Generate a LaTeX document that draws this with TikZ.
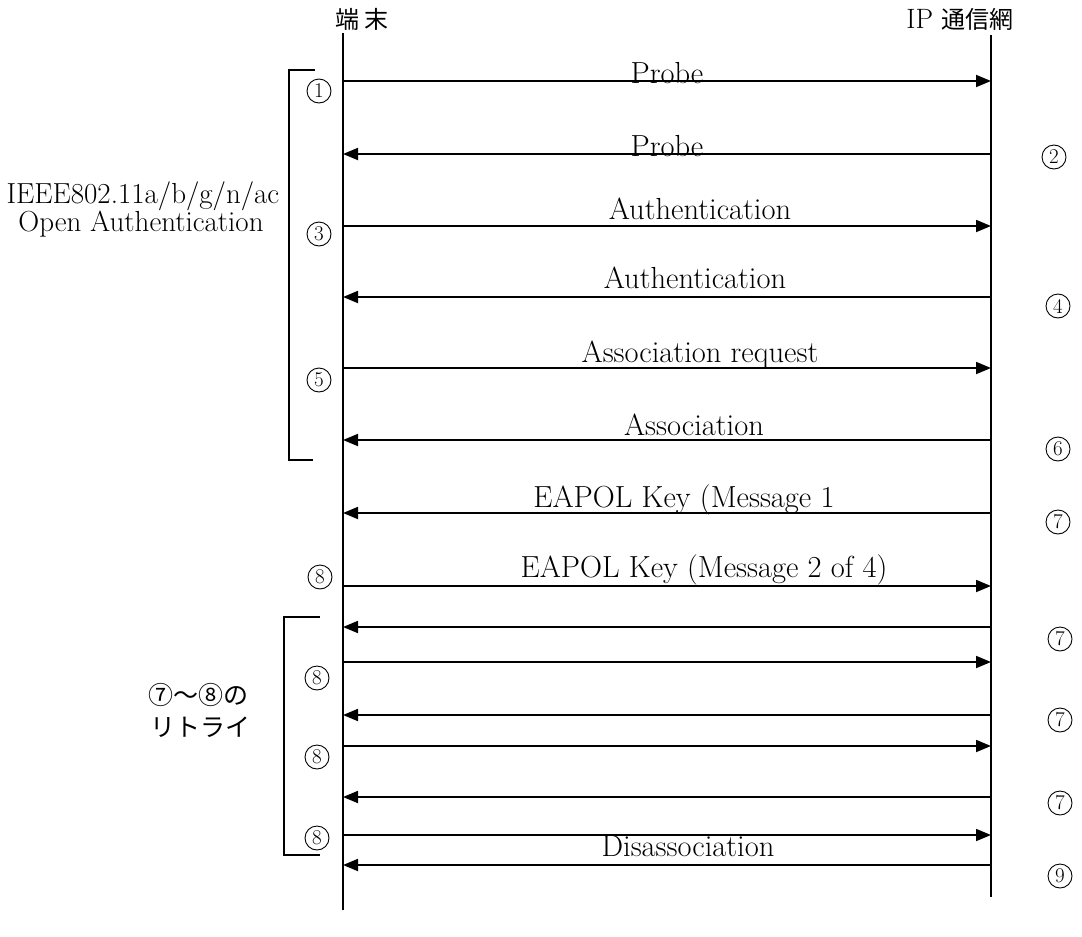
\documentclass[tikz,border=0pt]{standalone}
\usepackage{fontspec}
\newfontfamily\jp{Noto Sans CJK JP}
\usetikzlibrary{arrows.meta}
\begin{document}
\begin{tikzpicture}[x=1pt,y=-1pt,
  life/.style={line width=1.8pt},
  msg/.style={line width=1.8pt,-{Triangle[length=15pt,width=12pt]}},
  lbl/.style={font=\fontsize{30.5}{34}\selectfont, anchor=base, inner sep=0pt},
  hdr/.style={font=\fontsize{28}{32}\selectfont, inner sep=0pt},
  num/.style={circle, draw, line width=0.9pt, minimum size=24pt, inner sep=0pt, font=\fontsize{21}{24}\selectfont},
  side/.style={font=\fontsize{29}{33}\selectfont, inner sep=0pt, align=center},
  jside/.style={font=\jp\fontsize{25}{28}\selectfont, inner sep=0pt},
  brk/.style={line width=1.5pt},
]
\useasboundingbox (0,0) rectangle (1082,937);
% headers
\node[hdr] (hT) at (362,19) {{\jp\fontsize{24}{28}\selectfont 端 末}};
\node[hdr] (hN) at (960,19) {IP {\jp\fontsize{24}{28}\selectfont 通信網}};
% lifelines
\coordinate (Ltop) at (343,33);
\coordinate (Lbot) at (343,910);
\coordinate (Rtop) at (991,35);
\coordinate (Rbot) at (991,897);
\draw[life] (Ltop) -- (Lbot);
\draw[life] (Rtop) -- (Rbot);
% message endpoints
\foreach \i/\y in {1/81,2/154,3/226,4/297,5/368,6/440,7/513,8/586,9/627,10/662,11/715,12/746,13/797,14/835,15/865}{
  \coordinate (L\i) at (343,\y);
  \coordinate (R\i) at (991,\y);
}
% right arrows
\foreach \i in {1,3,5,8,10,12,14}{ \draw[msg] (L\i) -- (R\i); }
% left arrows
\foreach \i in {2,4,6,7,9,11,13,15}{ \draw[msg] (R\i) -- (L\i); }
% message labels
\node[lbl] (m1) at (667,83) {Probe};
\node[lbl] (m2) at (667,156) {Probe};
\node[lbl] (m3) at (700,219) {Authentication};
\node[lbl] (m4) at (695,288) {Authentication};
\node[lbl] (m5) at (700,362) {Association request};
\node[lbl] (m6) at (694,435) {Association};
\node[lbl] (m7) at (684,507) {EAPOL Key (Message 1};
\node[lbl] (m8) at (704,577) {EAPOL Key (Message 2 of 4)};
\node[lbl] (m15) at (688,856) {Disassociation};
% step numbers
\node[num] (n1) at (319,91) {1};
\node[num] (n2) at (1054,157) {2};
\node[num] (n3) at (319,234) {3};
\node[num] (n4) at (1058,306) {4};
\node[num] (n5) at (319,380) {5};
\node[num] (n6) at (1058,449) {6};
\node[num] (n7) at (1058,522) {7};
\node[num] (n8) at (320,577) {8};
\node[num] (n9) at (1060,639) {7};
\node[num] (n10) at (317,678) {8};
\node[num] (n11) at (1060,720) {7};
\node[num] (n12) at (317,757) {8};
\node[num] (n13) at (1060,803) {7};
\node[num] (n14) at (317,838) {8};
\node[num] (n15) at (1060,876) {9};
% brackets
\coordinate (b1a) at (315,70);
\coordinate (b1b) at (289,70);
\coordinate (b1c) at (289,460);
\coordinate (b1d) at (313,460);
\draw[brk] (b1a) -- (b1b) -- (b1c) -- (b1d);
\coordinate (b2a) at (320,617);
\coordinate (b2b) at (284,617);
\coordinate (b2c) at (284,855);
\coordinate (b2d) at (320,855);
\draw[brk] (b2a) -- (b2b) -- (b2c) -- (b2d);
% side labels
\node[side] (s1) at (143,196) {IEEE802.11a/b/g/n/ac};
\node[side] (s2) at (141,224) {Open Authentication};
\node[jside] (s3) at (198,695) {⑦～⑧の};
\node[jside] (s4) at (200,727) {リトライ};
\end{tikzpicture}
\end{document}
